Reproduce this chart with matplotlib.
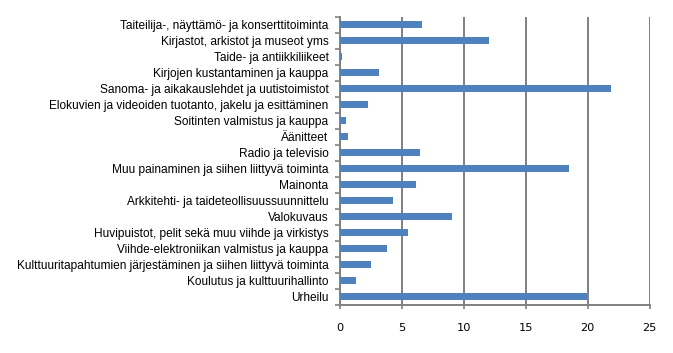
import numpy as np
import matplotlib.pyplot as plt

categories = [
    'Taiteilija-, näyttämö- ja konserttitoiminta',
    'Kirjastot, arkistot ja museot yms',
    'Taide- ja antiikkiliikeet',
    'Kirjojen kustantaminen ja kauppa',
    'Sanoma- ja aikakauslehdet ja uutistoimistot',
    'Elokuvien ja videoiden tuotanto, jakelu ja esittäminen',
    'Soitinten valmistus ja kauppa',
    'Äänitteet',
    'Radio ja televisio',
    'Muu painaminen ja siihen liittyvä toiminta',
    'Mainonta',
    'Arkkitehti- ja taideteollisuussuunnittelu',
    'Valokuvaus',
    'Huvipuistot, pelit sekä muu viihde ja virkistys',
    'Viihde-elektroniikan valmistus ja kauppa',
    'Kulttuuritapahtumien järjestäminen ja siihen liittyvä toiminta',
    'Koulutus ja kulttuurihallinto',
    'Urheilu',
]
values = [6.6, 12.0, 0.15, 3.1, 21.9, 2.25, 0.45, 0.6, 6.4, 18.45,
          6.1, 4.25, 9.0, 5.45, 3.75, 2.45, 1.25, 19.95]
xticks = [0, 5, 10, 15, 20, 25]

grey = '#808080'
blue = '#4F81BD'

fig = plt.figure(figsize=(6.73, 3.53), dpi=100)
ax = fig.add_axes([0.5057, 0.137, 0.4597, 0.8157])

y = np.arange(len(categories))
ax.barh(y, values, height=0.42, color=blue, zorder=3)

ax.set_xlim(0, 25)
ax.set_ylim(len(categories) - 0.5, -0.5)
ax.set_xticks(xticks)
ax.set_xticklabels([str(t) for t in xticks], family='DejaVu Sans', fontsize=8.2)
ax.set_yticks(y)
ax.set_yticklabels(categories, family='Liberation Sans', fontsize=8.6)
ax.set_yticks(np.arange(-0.5, len(categories) + 0.5, 1), minor=True)

ax.tick_params(axis='y', which='major', length=0, pad=8.5)
ax.tick_params(axis='y', which='minor', length=3.6, width=1.2, color=grey, direction='out')
ax.tick_params(axis='x', length=3, width=1.2, color=grey, direction='out', pad=10)

ax.grid(axis='x', color=grey, linewidth=1.4, zorder=0)
for s in ['top', 'right']:
    ax.spines[s].set_visible(False)
for s in ['left', 'bottom']:
    ax.spines[s].set_color(grey)
    ax.spines[s].set_linewidth(1.4)

fig.savefig('out.png', dpi=100)
